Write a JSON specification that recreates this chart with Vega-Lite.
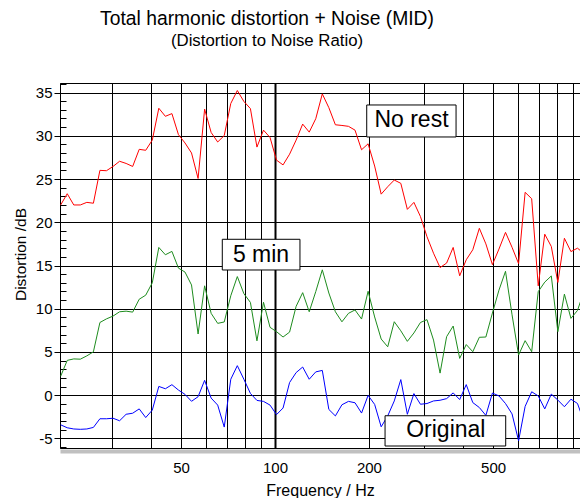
{
  "$schema": "https://vega.github.io/schema/vega-lite/v6.json",
  "width": 520,
  "height": 365,
  "autosize": {"type": "none"},
  "padding": {"left": 60, "top": 83, "right": 0, "bottom": 50},
  "background": "white",
  "title": {
    "text": "Total harmonic distortion + Noise (MID)",
    "subtitle": "(Distortion to Noise Ratio)",
    "anchor": "middle",
    "dx": -53,
    "offset": 27,
    "font": "Liberation Sans",
    "fontSize": 19.3,
    "fontWeight": "normal",
    "color": "black",
    "subtitleFont": "Liberation Sans",
    "subtitleFontSize": 16.8,
    "subtitleFontWeight": "normal",
    "subtitleColor": "black",
    "subtitlePadding": 4
  },
  "config": {
    "view": {"stroke": "black", "strokeWidth": 1},
    "font": "Liberation Sans"
  },
  "datasets": {
    "curves": [
      {"freq": 20.56, "series": "No rest", "dB": 22.0},
      {"freq": 21.58, "series": "No rest", "dB": 23.3},
      {"freq": 22.65, "series": "No rest", "dB": 22.0},
      {"freq": 23.77, "series": "No rest", "dB": 22.0},
      {"freq": 24.94, "series": "No rest", "dB": 22.3},
      {"freq": 26.18, "series": "No rest", "dB": 22.2},
      {"freq": 27.47, "series": "No rest", "dB": 26.0},
      {"freq": 28.83, "series": "No rest", "dB": 25.96},
      {"freq": 30.26, "series": "No rest", "dB": 26.45},
      {"freq": 31.76, "series": "No rest", "dB": 27.05},
      {"freq": 33.33, "series": "No rest", "dB": 26.8},
      {"freq": 34.98, "series": "No rest", "dB": 26.45},
      {"freq": 36.71, "series": "No rest", "dB": 28.43},
      {"freq": 38.52, "series": "No rest", "dB": 28.32},
      {"freq": 40.43, "series": "No rest", "dB": 29.5},
      {"freq": 42.43, "series": "No rest", "dB": 33.18},
      {"freq": 44.53, "series": "No rest", "dB": 32.25},
      {"freq": 46.73, "series": "No rest", "dB": 32.56},
      {"freq": 49.04, "series": "No rest", "dB": 30.13},
      {"freq": 51.47, "series": "No rest", "dB": 29.17},
      {"freq": 54.01, "series": "No rest", "dB": 28.01},
      {"freq": 56.69, "series": "No rest", "dB": 25.06},
      {"freq": 59.49, "series": "No rest", "dB": 33.08},
      {"freq": 62.43, "series": "No rest", "dB": 30.38},
      {"freq": 65.52, "series": "No rest", "dB": 29.28},
      {"freq": 68.76, "series": "No rest", "dB": 30.03},
      {"freq": 72.16, "series": "No rest", "dB": 33.73},
      {"freq": 75.73, "series": "No rest", "dB": 35.23},
      {"freq": 79.48, "series": "No rest", "dB": 33.97},
      {"freq": 83.41, "series": "No rest", "dB": 33.14},
      {"freq": 87.53, "series": "No rest", "dB": 28.69},
      {"freq": 91.86, "series": "No rest", "dB": 30.65},
      {"freq": 96.41, "series": "No rest", "dB": 29.8},
      {"freq": 101.13, "series": "No rest", "dB": 27.18},
      {"freq": 106.13, "series": "No rest", "dB": 26.63},
      {"freq": 111.38, "series": "No rest", "dB": 27.87},
      {"freq": 116.89, "series": "No rest", "dB": 29.5},
      {"freq": 122.67, "series": "No rest", "dB": 31.35},
      {"freq": 128.74, "series": "No rest", "dB": 30.42},
      {"freq": 135.11, "series": "No rest", "dB": 31.97},
      {"freq": 141.79, "series": "No rest", "dB": 34.84},
      {"freq": 148.8, "series": "No rest", "dB": 33.25},
      {"freq": 156.16, "series": "No rest", "dB": 31.27},
      {"freq": 163.89, "series": "No rest", "dB": 31.19},
      {"freq": 172.0, "series": "No rest", "dB": 31.09},
      {"freq": 180.51, "series": "No rest", "dB": 30.65},
      {"freq": 189.44, "series": "No rest", "dB": 28.38},
      {"freq": 198.81, "series": "No rest", "dB": 29.07},
      {"freq": 208.65, "series": "No rest", "dB": 26.5},
      {"freq": 218.97, "series": "No rest", "dB": 23.25},
      {"freq": 229.8, "series": "No rest", "dB": 24.11},
      {"freq": 241.17, "series": "No rest", "dB": 24.88},
      {"freq": 253.1, "series": "No rest", "dB": 24.5},
      {"freq": 265.63, "series": "No rest", "dB": 21.49},
      {"freq": 278.77, "series": "No rest", "dB": 22.3},
      {"freq": 292.56, "series": "No rest", "dB": 20.66},
      {"freq": 307.03, "series": "No rest", "dB": 18.33},
      {"freq": 322.22, "series": "No rest", "dB": 16.42},
      {"freq": 338.17, "series": "No rest", "dB": 14.76},
      {"freq": 354.9, "series": "No rest", "dB": 15.28},
      {"freq": 372.46, "series": "No rest", "dB": 17.09},
      {"freq": 390.88, "series": "No rest", "dB": 13.81},
      {"freq": 410.22, "series": "No rest", "dB": 15.66},
      {"freq": 430.52, "series": "No rest", "dB": 16.82},
      {"freq": 451.82, "series": "No rest", "dB": 19.3},
      {"freq": 474.17, "series": "No rest", "dB": 17.5},
      {"freq": 497.63, "series": "No rest", "dB": 15.1},
      {"freq": 522.25, "series": "No rest", "dB": 16.9},
      {"freq": 548.09, "series": "No rest", "dB": 18.83},
      {"freq": 575.21, "series": "No rest", "dB": 17.1},
      {"freq": 603.66, "series": "No rest", "dB": 15.22},
      {"freq": 633.53, "series": "No rest", "dB": 23.46},
      {"freq": 664.87, "series": "No rest", "dB": 22.72},
      {"freq": 697.77, "series": "No rest", "dB": 12.65},
      {"freq": 732.29, "series": "No rest", "dB": 18.62},
      {"freq": 768.52, "series": "No rest", "dB": 17.2},
      {"freq": 806.54, "series": "No rest", "dB": 13.04},
      {"freq": 846.45, "series": "No rest", "dB": 18.15},
      {"freq": 888.33, "series": "No rest", "dB": 16.61},
      {"freq": 932.28, "series": "No rest", "dB": 17.0},
      {"freq": 977.5, "series": "No rest", "dB": 16.4},
      {"freq": 20.56, "series": "5 min", "dB": 2.2},
      {"freq": 21.58, "series": "5 min", "dB": 4.03},
      {"freq": 22.65, "series": "5 min", "dB": 4.2},
      {"freq": 23.77, "series": "5 min", "dB": 4.17},
      {"freq": 24.94, "series": "5 min", "dB": 4.55},
      {"freq": 26.18, "series": "5 min", "dB": 5.02},
      {"freq": 27.47, "series": "5 min", "dB": 8.41},
      {"freq": 28.83, "series": "5 min", "dB": 8.83},
      {"freq": 30.26, "series": "5 min", "dB": 9.15},
      {"freq": 31.76, "series": "5 min", "dB": 9.65},
      {"freq": 33.33, "series": "5 min", "dB": 9.72},
      {"freq": 34.98, "series": "5 min", "dB": 9.61},
      {"freq": 36.71, "series": "5 min", "dB": 11.1},
      {"freq": 38.52, "series": "5 min", "dB": 11.57},
      {"freq": 40.43, "series": "5 min", "dB": 13.0},
      {"freq": 42.43, "series": "5 min", "dB": 17.09},
      {"freq": 44.53, "series": "5 min", "dB": 16.24},
      {"freq": 46.73, "series": "5 min", "dB": 16.63},
      {"freq": 49.04, "series": "5 min", "dB": 14.7},
      {"freq": 51.47, "series": "5 min", "dB": 14.24},
      {"freq": 54.01, "series": "5 min", "dB": 12.75},
      {"freq": 56.69, "series": "5 min", "dB": 7.08},
      {"freq": 59.49, "series": "5 min", "dB": 12.65},
      {"freq": 62.43, "series": "5 min", "dB": 9.47},
      {"freq": 65.52, "series": "5 min", "dB": 8.31},
      {"freq": 68.76, "series": "5 min", "dB": 8.47},
      {"freq": 72.16, "series": "5 min", "dB": 11.5},
      {"freq": 75.73, "series": "5 min", "dB": 13.72},
      {"freq": 79.48, "series": "5 min", "dB": 11.75},
      {"freq": 83.41, "series": "5 min", "dB": 10.73},
      {"freq": 87.53, "series": "5 min", "dB": 6.29},
      {"freq": 91.86, "series": "5 min", "dB": 10.75},
      {"freq": 96.41, "series": "5 min", "dB": 7.85},
      {"freq": 101.13, "series": "5 min", "dB": 7.35},
      {"freq": 106.13, "series": "5 min", "dB": 6.73},
      {"freq": 111.38, "series": "5 min", "dB": 7.3},
      {"freq": 116.89, "series": "5 min", "dB": 10.28},
      {"freq": 122.67, "series": "5 min", "dB": 11.86},
      {"freq": 128.74, "series": "5 min", "dB": 9.65},
      {"freq": 135.11, "series": "5 min", "dB": 11.98},
      {"freq": 141.79, "series": "5 min", "dB": 14.5},
      {"freq": 148.8, "series": "5 min", "dB": 11.82},
      {"freq": 156.16, "series": "5 min", "dB": 9.65},
      {"freq": 163.89, "series": "5 min", "dB": 8.49},
      {"freq": 172.0, "series": "5 min", "dB": 9.47},
      {"freq": 180.51, "series": "5 min", "dB": 9.86},
      {"freq": 189.44, "series": "5 min", "dB": 8.81},
      {"freq": 198.81, "series": "5 min", "dB": 12.02},
      {"freq": 208.65, "series": "5 min", "dB": 9.05},
      {"freq": 218.97, "series": "5 min", "dB": 6.5},
      {"freq": 229.8, "series": "5 min", "dB": 5.6},
      {"freq": 241.17, "series": "5 min", "dB": 8.5},
      {"freq": 253.1, "series": "5 min", "dB": 7.45},
      {"freq": 265.63, "series": "5 min", "dB": 6.23},
      {"freq": 278.77, "series": "5 min", "dB": 7.2},
      {"freq": 292.56, "series": "5 min", "dB": 8.41},
      {"freq": 307.03, "series": "5 min", "dB": 8.74},
      {"freq": 322.22, "series": "5 min", "dB": 6.38},
      {"freq": 338.17, "series": "5 min", "dB": 2.56},
      {"freq": 354.9, "series": "5 min", "dB": 6.77},
      {"freq": 372.46, "series": "5 min", "dB": 8.0},
      {"freq": 390.88, "series": "5 min", "dB": 4.26},
      {"freq": 410.22, "series": "5 min", "dB": 5.86},
      {"freq": 430.52, "series": "5 min", "dB": 5.03},
      {"freq": 451.82, "series": "5 min", "dB": 6.7},
      {"freq": 474.17, "series": "5 min", "dB": 6.73},
      {"freq": 497.63, "series": "5 min", "dB": 9.5},
      {"freq": 522.25, "series": "5 min", "dB": 12.15},
      {"freq": 548.09, "series": "5 min", "dB": 14.33},
      {"freq": 575.21, "series": "5 min", "dB": 9.3},
      {"freq": 603.66, "series": "5 min", "dB": 4.65},
      {"freq": 633.53, "series": "5 min", "dB": 6.31},
      {"freq": 664.87, "series": "5 min", "dB": 5.03},
      {"freq": 697.77, "series": "5 min", "dB": 11.98},
      {"freq": 732.29, "series": "5 min", "dB": 13.08},
      {"freq": 768.52, "series": "5 min", "dB": 13.79},
      {"freq": 806.54, "series": "5 min", "dB": 7.35},
      {"freq": 846.45, "series": "5 min", "dB": 11.69},
      {"freq": 888.33, "series": "5 min", "dB": 8.89},
      {"freq": 932.28, "series": "5 min", "dB": 9.8},
      {"freq": 977.5, "series": "5 min", "dB": 12.0},
      {"freq": 20.56, "series": "Original", "dB": -3.42},
      {"freq": 21.58, "series": "Original", "dB": -3.76},
      {"freq": 22.65, "series": "Original", "dB": -3.9},
      {"freq": 23.77, "series": "Original", "dB": -3.94},
      {"freq": 24.94, "series": "Original", "dB": -3.9},
      {"freq": 26.18, "series": "Original", "dB": -3.72},
      {"freq": 27.47, "series": "Original", "dB": -2.72},
      {"freq": 28.83, "series": "Original", "dB": -2.72},
      {"freq": 30.26, "series": "Original", "dB": -2.66},
      {"freq": 31.76, "series": "Original", "dB": -2.95},
      {"freq": 33.33, "series": "Original", "dB": -2.2},
      {"freq": 34.98, "series": "Original", "dB": -2.08},
      {"freq": 36.71, "series": "Original", "dB": -1.58},
      {"freq": 38.52, "series": "Original", "dB": -2.58},
      {"freq": 40.43, "series": "Original", "dB": -1.72},
      {"freq": 42.43, "series": "Original", "dB": 1.02},
      {"freq": 44.53, "series": "Original", "dB": 0.75},
      {"freq": 46.73, "series": "Original", "dB": 1.22},
      {"freq": 49.04, "series": "Original", "dB": 0.6},
      {"freq": 51.47, "series": "Original", "dB": 0.1},
      {"freq": 54.01, "series": "Original", "dB": -0.7},
      {"freq": 56.69, "series": "Original", "dB": -0.17},
      {"freq": 59.49, "series": "Original", "dB": 1.72},
      {"freq": 62.43, "series": "Original", "dB": -0.33},
      {"freq": 65.52, "series": "Original", "dB": -1.14},
      {"freq": 68.76, "series": "Original", "dB": -3.68},
      {"freq": 72.16, "series": "Original", "dB": 1.85},
      {"freq": 75.73, "series": "Original", "dB": 3.42},
      {"freq": 79.48, "series": "Original", "dB": 1.85},
      {"freq": 83.41, "series": "Original", "dB": 0.21},
      {"freq": 87.53, "series": "Original", "dB": -0.6},
      {"freq": 91.86, "series": "Original", "dB": -0.71},
      {"freq": 96.41, "series": "Original", "dB": -1.14},
      {"freq": 101.13, "series": "Original", "dB": -2.24},
      {"freq": 106.13, "series": "Original", "dB": -1.48},
      {"freq": 111.38, "series": "Original", "dB": 1.47},
      {"freq": 116.89, "series": "Original", "dB": 2.62},
      {"freq": 122.67, "series": "Original", "dB": 3.26},
      {"freq": 128.74, "series": "Original", "dB": 1.85},
      {"freq": 135.11, "series": "Original", "dB": 2.7},
      {"freq": 141.79, "series": "Original", "dB": 2.87},
      {"freq": 148.8, "series": "Original", "dB": -1.64},
      {"freq": 156.16, "series": "Original", "dB": -2.39},
      {"freq": 163.89, "series": "Original", "dB": -1.1},
      {"freq": 172.0, "series": "Original", "dB": -0.71},
      {"freq": 180.51, "series": "Original", "dB": -0.87},
      {"freq": 189.44, "series": "Original", "dB": -2.06},
      {"freq": 198.81, "series": "Original", "dB": -0.02},
      {"freq": 208.65, "series": "Original", "dB": -1.06},
      {"freq": 218.97, "series": "Original", "dB": -3.65},
      {"freq": 229.8, "series": "Original", "dB": -2.39},
      {"freq": 241.17, "series": "Original", "dB": -0.66},
      {"freq": 253.1, "series": "Original", "dB": 1.81},
      {"freq": 265.63, "series": "Original", "dB": -2.2},
      {"freq": 278.77, "series": "Original", "dB": 0.19},
      {"freq": 292.56, "series": "Original", "dB": -1.04},
      {"freq": 307.03, "series": "Original", "dB": -0.96},
      {"freq": 322.22, "series": "Original", "dB": -0.66},
      {"freq": 338.17, "series": "Original", "dB": -0.58},
      {"freq": 354.9, "series": "Original", "dB": -0.39},
      {"freq": 372.46, "series": "Original", "dB": 0.27},
      {"freq": 390.88, "series": "Original", "dB": -0.5},
      {"freq": 410.22, "series": "Original", "dB": 1.23},
      {"freq": 430.52, "series": "Original", "dB": -0.85},
      {"freq": 451.82, "series": "Original", "dB": -1.42},
      {"freq": 474.17, "series": "Original", "dB": -2.33},
      {"freq": 497.63, "series": "Original", "dB": 0.25},
      {"freq": 522.25, "series": "Original", "dB": -0.08},
      {"freq": 548.09, "series": "Original", "dB": -0.96},
      {"freq": 575.21, "series": "Original", "dB": -2.16},
      {"freq": 603.66, "series": "Original", "dB": -5.27},
      {"freq": 633.53, "series": "Original", "dB": -1.29},
      {"freq": 664.87, "series": "Original", "dB": 0.4},
      {"freq": 697.77, "series": "Original", "dB": -0.08},
      {"freq": 732.29, "series": "Original", "dB": -1.58},
      {"freq": 768.52, "series": "Original", "dB": 0.13},
      {"freq": 806.54, "series": "Original", "dB": -0.56},
      {"freq": 846.45, "series": "Original", "dB": -1.33},
      {"freq": 888.33, "series": "Original", "dB": -0.46},
      {"freq": 932.28, "series": "Original", "dB": -0.95},
      {"freq": 977.5, "series": "Original", "dB": -3.0}
    ],
    "boxes": [
      {"label": "No rest", "freq": 196.8, "freq2": 380.5, "dB": 33.56, "dB2": 29.86},
      {"label": "5 min", "freq": 67.78, "freq2": 120.24, "dB": 18.03, "dB2": 14.48},
      {"label": "Original", "freq": 225.3, "freq2": 548.9, "dB": -2.37, "dB2": -5.87}
    ],
    "labels": [
      {"label": "No rest", "freq": 273.8, "dB": 31.8},
      {"label": "5 min", "freq": 90.2, "dB": 16.21},
      {"label": "Original", "freq": 352.8, "dB": -3.99}
    ]
  },
  "layer": [
    {
      "data": {"name": "curves"},
      "mark": {"type": "line", "strokeWidth": 1, "clip": true},
      "encoding": {
        "x": {
          "field": "freq",
          "type": "quantitative",
          "scale": {"type": "log", "domain": [20.46, 949.8], "nice": false},
          "axis": {
            "title": "Frequency / Hz",
            "values": [30, 40, 50, 60, 70, 80, 90, 100, 200, 300, 400, 500, 600, 700, 800, 900],
            "tickCount": 100,
            "labelExpr": "indexof([50, 100, 200, 500], datum.value) >= 0 ? datum.value + '' : ''",
            "labelOverlap": false,
            "labelFlush": false,
            "labelBound": false,
            "labelFont": "Liberation Sans",
            "labelFontSize": 15,
            "labelColor": "black",
            "labelPadding": 9.5,
            "tickSize": 0,
            "ticks": false,
            "offset": 3,
            "domainColor": "#c0c0c0",
            "domainWidth": 4,
            "grid": true,
            "gridColor": "black",
            "gridOpacity": 1,
            "gridWidth": {"condition": {"test": "datum.value === 100", "value": 2}, "value": 1},
            "titleFont": "Liberation Sans",
            "titleFontSize": 16,
            "titleFontWeight": "normal",
            "titleColor": "black",
            "titlePadding": 7
          }
        },
        "y": {
          "field": "dB",
          "type": "quantitative",
          "scale": {"domain": [-6.1, 36.1], "nice": false, "zero": false},
          "axis": {
            "title": "Distortion /dB",
            "values": [-6, -5, -4, -3, -2, -1, 0, 1, 2, 3, 4, 5, 6, 7, 8, 9, 10, 11, 12, 13, 14, 15, 16, 17, 18, 19, 20, 21, 22, 23, 24, 25, 26, 27, 28, 29, 30, 31, 32, 33, 34, 35, 36],
            "tickCount": 100,
            "labelExpr": "datum.value % 5 === 0 ? datum.value + '' : ''",
            "labelOverlap": false,
            "labelBound": false,
            "labelFont": "Liberation Sans",
            "labelFontSize": 15,
            "labelColor": "black",
            "labelPadding": 2,
            "tickSize": {"condition": {"test": "datum.value % 5 === 0", "value": 6}, "value": -6},
            "tickColor": "black",
            "domainColor": "black",
            "grid": true,
            "gridColor": "black",
            "gridOpacity": {"condition": {"test": "datum.value % 5 === 0", "value": 1}, "value": 0},
            "titleFont": "Liberation Sans",
            "titleFontSize": 15.5,
            "titleFontWeight": "normal",
            "titleColor": "black",
            "titleBaseline": "alphabetic",
            "titleX": -35,
            "titleY": 171
          }
        },
        "color": {
          "field": "series",
          "type": "nominal",
          "scale": {"domain": ["No rest", "5 min", "Original"], "range": ["#ff0000", "#1e8c1e", "#0000ff"]},
          "legend": null
        }
      }
    },
    {
      "data": {"name": "boxes"},
      "mark": {"type": "rect", "fill": "white", "stroke": "black", "strokeWidth": 1},
      "encoding": {
        "x": {"field": "freq", "type": "quantitative"},
        "x2": {"field": "freq2"},
        "y": {"field": "dB", "type": "quantitative"},
        "y2": {"field": "dB2"}
      }
    },
    {
      "data": {"name": "labels"},
      "mark": {"type": "text", "font": "Liberation Sans", "fontSize": 23, "color": "black", "align": "center", "baseline": "middle"},
      "encoding": {
        "x": {"field": "freq", "type": "quantitative"},
        "y": {"field": "dB", "type": "quantitative"},
        "text": {"field": "label"}
      }
    }
  ]
}
